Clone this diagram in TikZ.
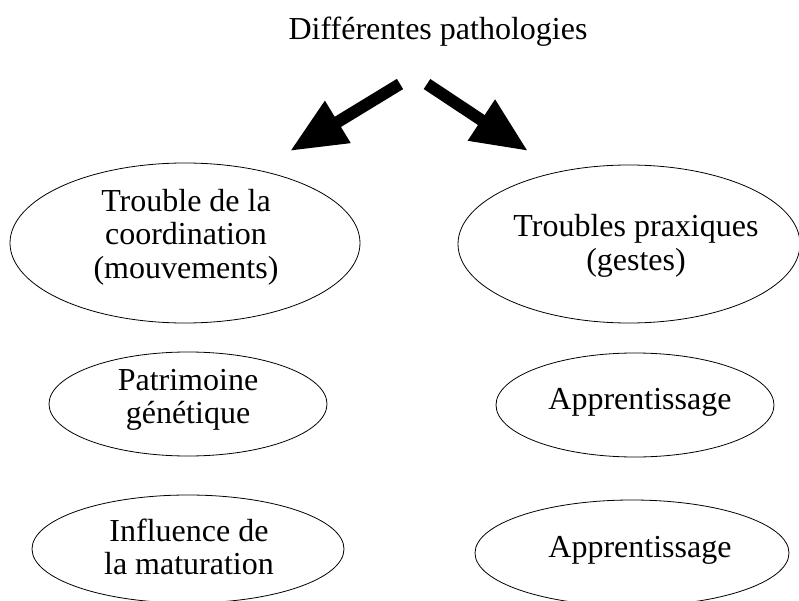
\documentclass[tikz,border=0pt]{standalone}
\usepackage{fontspec}
\setmainfont{Liberation Serif}
\usetikzlibrary{arrows.meta}
\begin{document}
\begin{tikzpicture}[x=1pt,y=-1pt,
  ellstyle/.style={line width=0.8pt},
  lbl/.style={align=center,font=\fontsize{32}{33.5}\selectfont},
  bigarrow/.style={line width=12pt,-{Triangle[length=56pt,width=46pt]}}]
\useasboundingbox (0,0) rectangle (799,601);
\begin{scope}
\clip (0,0) rectangle (799,601);
\draw[ellstyle] (185,243) ellipse [x radius=175,y radius=80];
\draw[ellstyle] (188,404) ellipse [x radius=139,y radius=52];
\draw[ellstyle] (188,549) ellipse [x radius=156,y radius=54];
\draw[ellstyle] (629,244) ellipse [x radius=171,y radius=79];
\draw[ellstyle] (635,405) ellipse [x radius=139,y radius=52];
\draw[ellstyle] (632,553) ellipse [x radius=157,y radius=53];
\end{scope}
\node[lbl] (title) at (438,32) {Différentes pathologies};
\node[lbl] (l1) at (186,237) {Trouble de la\\coordination\\(mouvements)};
\node[lbl] (l2) at (188,400) {Patrimoine\\génétique};
\node[lbl] (l3) at (189,547) {Influence de\\la maturation};
\node[lbl] (r1) at (636,246) {Troubles praxiques\\(gestes)};
\node[lbl] (r2) at (640,402) {Apprentissage};
\node[lbl] (r3) at (640,550) {Apprentissage};
\coordinate (la) at (400,84);
\coordinate (lb) at (290,151);
\coordinate (ra) at (427,84);
\coordinate (rb) at (528,151);
\draw[bigarrow] (la) -- (lb);
\draw[bigarrow] (ra) -- (rb);
\end{tikzpicture}
\end{document}
